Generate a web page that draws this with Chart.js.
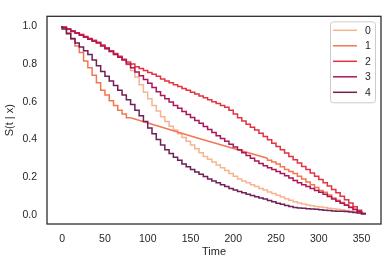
<!DOCTYPE html>
<html>
<head>
<meta charset="utf-8">
<script src="https://cdn.jsdelivr.net/npm/chart.js@4.4.0/dist/chart.umd.min.js"></script>
<style>
  html, body { margin: 0; padding: 0; background: #fff; }
  #wrap { width: 388px; height: 265px; }
</style>
</head>
<body>
<div id="wrap"><canvas id="survchart" width="388" height="265"></canvas></div>
<script>
'use strict';

// time grid of the survival curves (shared by every series)
const times = [0, 5, 10, 15, 20, 25, 30, 35, 40, 45, 50, 55, 60, 65, 70, 75, 80, 85, 90, 95,
    100, 105, 110, 115, 120, 125, 130, 135, 140, 145, 150, 155, 160, 165, 170, 175, 180, 185, 190, 195,
    200, 205, 210, 215, 220, 225, 230, 235, 240, 245, 250, 255, 260, 265, 270, 275, 280, 285, 290, 295,
    300, 305, 310, 315, 320, 325, 330, 335, 340, 345, 350, 355];

const seriesNames = ['0', '1', '2', '3', '4'];

const surv0 = [1.0, 0.995, 0.985, 0.975, 0.965, 0.955, 0.945, 0.935, 0.92, 0.91, 0.895, 0.88, 0.865, 0.85, 0.835, 0.82, 0.795, 0.765, 0.73, 0.69,
    0.65, 0.615, 0.58, 0.55, 0.52, 0.495, 0.47, 0.45, 0.43, 0.41, 0.39, 0.37, 0.35, 0.33, 0.31, 0.295, 0.28, 0.265, 0.25, 0.235,
    0.22, 0.205, 0.19, 0.18, 0.17, 0.16, 0.15, 0.14, 0.132, 0.122, 0.113, 0.104, 0.095, 0.086, 0.078, 0.07, 0.063, 0.058, 0.053, 0.049,
    0.045, 0.042, 0.039, 0.036, 0.033, 0.03, 0.027, 0.024, 0.021, 0.017, 0.012, 0.006];

// series 1 has a straight stretch between 80 and 240 (see surv1Bridge*)
const surv1 = [1.0, 0.99, 0.965, 0.93, 0.895, 0.86, 0.815, 0.78, 0.74, 0.70, 0.66, 0.635, 0.605, 0.58, 0.555, 0.535, 0.515, null, null, null,
    null, null, null, null, null, null, null, null, null, null, null, null, null, null, null, null, null, null, null, null,
    null, null, null, null, null, null, null, null, 0.30, 0.29, 0.28, 0.27, 0.255, 0.24, 0.23, 0.22, 0.205, 0.19, 0.175, 0.16,
    0.145, 0.13, 0.12, 0.105, 0.09, 0.078, 0.066, 0.054, 0.042, 0.03, 0.018, 0.007];
const surv1BridgeT = [80, 160, 240];
const surv1BridgeS = [0.515, 0.405, 0.30];

const surv2 = [1.0, 0.995, 0.985, 0.975, 0.965, 0.955, 0.945, 0.935, 0.925, 0.915, 0.90, 0.885, 0.87, 0.855, 0.84, 0.825, 0.81, 0.80, 0.785, 0.775,
    0.765, 0.755, 0.745, 0.735, 0.72, 0.71, 0.70, 0.69, 0.68, 0.67, 0.66, 0.65, 0.64, 0.63, 0.62, 0.61, 0.60, 0.59, 0.58, 0.57,
    0.555, 0.535, 0.515, 0.497, 0.48, 0.465, 0.45, 0.432, 0.415, 0.398, 0.38, 0.362, 0.345, 0.328, 0.31, 0.292, 0.275, 0.257, 0.24, 0.222,
    0.205, 0.188, 0.17, 0.153, 0.135, 0.117, 0.099, 0.081, 0.063, 0.044, 0.025, 0.008];

const surv3 = [1.0, 0.993, 0.983, 0.972, 0.962, 0.952, 0.941, 0.93, 0.92, 0.91, 0.895, 0.88, 0.865, 0.85, 0.835, 0.82, 0.80, 0.78, 0.757, 0.737,
    0.717, 0.697, 0.675, 0.653, 0.632, 0.615, 0.598, 0.58, 0.565, 0.548, 0.532, 0.516, 0.50, 0.485, 0.468, 0.452, 0.437, 0.42, 0.405, 0.39,
    0.375, 0.36, 0.345, 0.33, 0.315, 0.30, 0.285, 0.272, 0.26, 0.25, 0.24, 0.23, 0.22, 0.207, 0.195, 0.182, 0.17, 0.16, 0.15, 0.14,
    0.13, 0.12, 0.11, 0.097, 0.085, 0.073, 0.062, 0.051, 0.04, 0.029, 0.018, 0.007];

const surv4 = [1.0, 0.985, 0.96, 0.935, 0.91, 0.89, 0.87, 0.85, 0.82, 0.79, 0.76, 0.735, 0.71, 0.685, 0.66, 0.635, 0.61, 0.585, 0.555, 0.525,
    0.495, 0.46, 0.43, 0.40, 0.37, 0.345, 0.325, 0.305, 0.29, 0.27, 0.255, 0.24, 0.228, 0.215, 0.203, 0.19, 0.18, 0.17, 0.16, 0.15,
    0.14, 0.132, 0.124, 0.117, 0.11, 0.103, 0.096, 0.09, 0.084, 0.077, 0.07, 0.062, 0.056, 0.05, 0.045, 0.04, 0.037, 0.035, 0.033, 0.032,
    0.03, 0.028, 0.025, 0.023, 0.021, 0.02, 0.019, 0.018, 0.016, 0.013, 0.01, 0.006];

const xTicks = [0, 50, 100, 150, 200, 250, 300, 350];
const yTicks = [0.0, 0.2, 0.4, 0.6, 0.8, 1.0];

// seaborn "rocket" reversed
const colors = ['#f6b48f', '#f37651', '#e13342', '#ad1759', '#701f57'];
const inkColor = '#262626';
const fontFamily = "'Liberation Sans', Arial, sans-serif";

function toPoints(xs, ys) {
    return xs.map((t, i) => ({ x: t, y: ys[i] }));
}

const allSeries = [surv0, surv1, surv2, surv3, surv4];

let datasets = allSeries.map((vals, i) => ({
    label: seriesNames[i],
    data: toPoints(times, vals),
    borderColor: colors[i],
    borderWidth: 1.5,
    stepped: 'after',
    pointRadius: 0,
    spanGaps: false,
    order: 10 - 2 * i
}));

// straight part of series 1
datasets.push({
    label: '1-bridge',
    data: toPoints(surv1BridgeT, surv1BridgeS),
    borderColor: colors[1],
    borderWidth: 1.5,
    stepped: false,
    pointRadius: 0,
    order: 10 - 2 * 1
});

// box around the plot area
const framePlugin = {
    id: 'frame',
    afterDatasetsDraw(chart) {
        const a = chart.chartArea;
        const ctx = chart.ctx;
        ctx.save();
        ctx.strokeStyle = inkColor;
        ctx.lineWidth = 1.25;
        ctx.strokeRect(a.left, a.top, a.right - a.left, a.bottom - a.top);
        ctx.restore();
    }
};

// matplotlib-like legend in the upper right corner
const legendPlugin = {
    id: 'mplLegend',
    afterDraw(chart) {
        const ctx = chart.ctx;
        const a = chart.chartArea;
        const boxW = 45, boxH = 81;
        const bx = a.right - 6 - boxW, by = a.top + 5;
        ctx.save();
        ctx.fillStyle = 'rgba(255,255,255,0.8)';
        ctx.strokeStyle = '#cccccc';
        ctx.lineWidth = 1;
        ctx.beginPath();
        ctx.roundRect(bx + 0.5, by + 0.5, boxW, boxH, 3);
        ctx.fill();
        ctx.stroke();
        ctx.font = '10.5px ' + fontFamily;
        ctx.textBaseline = 'middle';
        ctx.textAlign = 'left';
        seriesNames.forEach((name, i) => {
            const ry = by + 9 + i * 15.5;
            ctx.strokeStyle = colors[i];
            ctx.lineWidth = 1.5;
            ctx.beginPath();
            ctx.moveTo(bx + 3, ry);
            ctx.lineTo(bx + 27, ry);
            ctx.stroke();
            ctx.fillStyle = inkColor;
            ctx.fillText(name, bx + 35, ry + 0.5);
        });
        ctx.restore();
    }
};

const config = {
    type: 'line',
    data: { datasets: datasets },
    options: {
        responsive: false,
        animation: false,
        layout: { padding: { top: 7, right: 7, left: 0, bottom: 0 } },
        plugins: {
            legend: { display: false },
            tooltip: { enabled: false }
        },
        scales: {
            x: {
                type: 'linear',
                min: -17.75,
                max: 372.75,
                grid: { display: false, drawTicks: false },
                border: { display: false },
                afterBuildTicks(scale) {
                    scale.ticks = xTicks.map(v => ({ value: v }));
                },
                afterFit(scale) { scale.height = 41; },
                ticks: {
                    padding: 9,
                    color: inkColor,
                    maxRotation: 0,
                    font: { family: fontFamily, size: 10.5 },
                    callback: v => String(v)
                },
                title: {
                    display: true,
                    text: 'Time',
                    color: inkColor,
                    font: { family: fontFamily, size: 11 },
                    padding: { top: 0, bottom: 6 }
                }
            },
            y: {
                type: 'linear',
                min: -0.048,
                max: 1.052,
                grid: { display: false, drawTicks: false },
                border: { display: false },
                afterBuildTicks(scale) {
                    scale.ticks = yTicks.map(v => ({ value: v }));
                },
                afterFit(scale) { scale.width = 47; },
                ticks: {
                    padding: 10,
                    color: inkColor,
                    font: { family: fontFamily, size: 10.5 },
                    callback: v => v.toFixed(1)
                },
                title: {
                    display: true,
                    text: 'S(t | x)',
                    color: inkColor,
                    font: { family: fontFamily, size: 11 },
                    padding: { top: 3, bottom: 0 }
                }
            }
        }
    },
    plugins: [framePlugin, legendPlugin]
};

const survChart = new Chart(document.getElementById('survchart'), config);
</script>
</body>
</html>
